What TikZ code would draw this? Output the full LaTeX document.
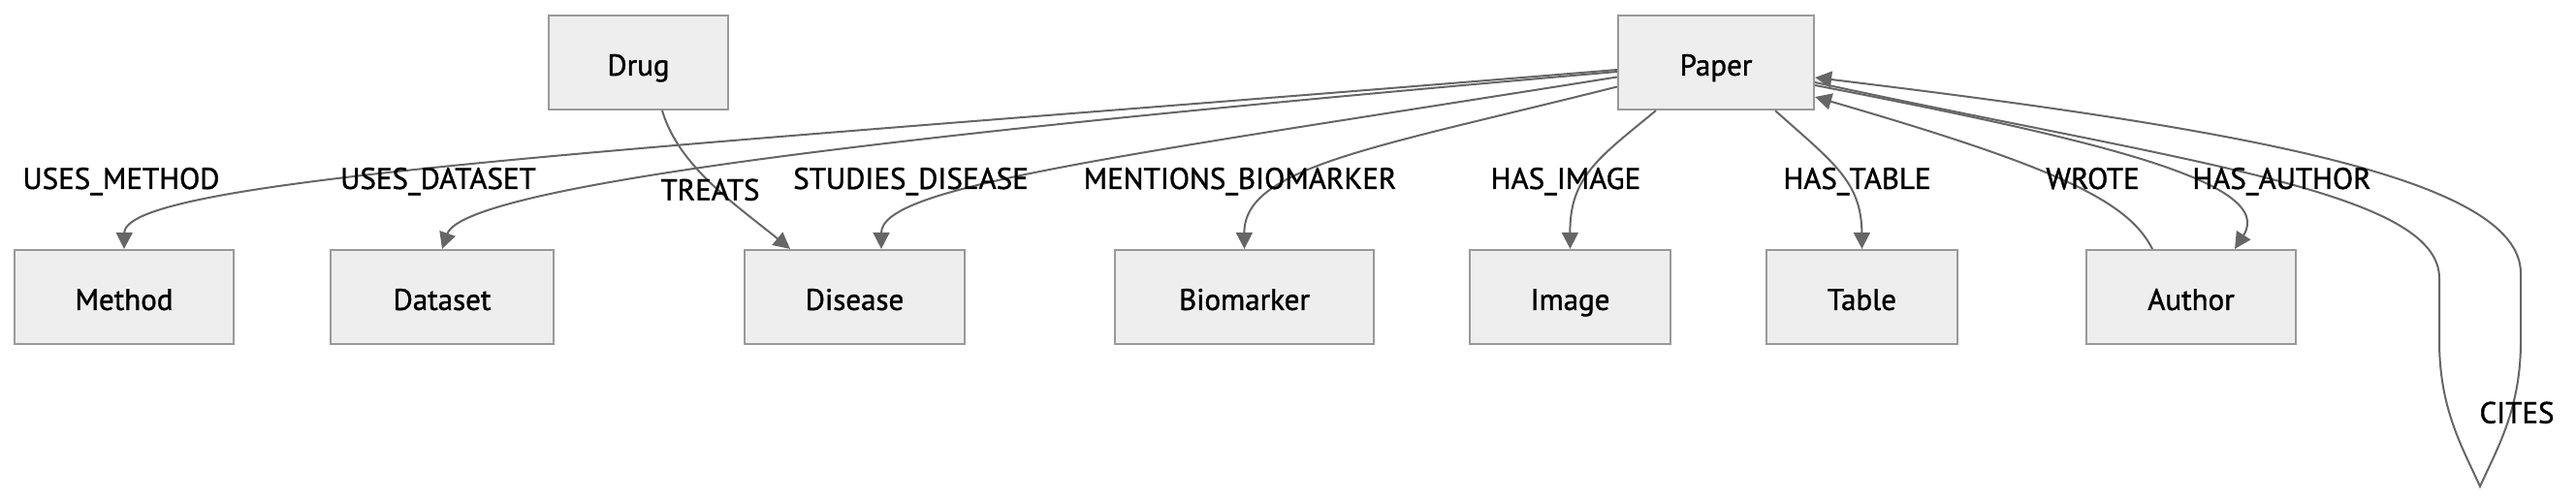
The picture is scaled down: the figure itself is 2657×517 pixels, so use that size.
\documentclass[tikz,border=0pt]{standalone}
\usepackage{fontspec}
\setmainfont{PT Sans}[FakeBold=1.2]
\usetikzlibrary{arrows.meta}
\definecolor{nodefill}{HTML}{EEEEEE}
\definecolor{nodeline}{HTML}{999999}
\definecolor{edgeline}{HTML}{666666}
\begin{document}
\begin{tikzpicture}[x=0.5pt,y=-0.5pt,
  entity/.style={draw=nodeline, fill=nodefill, line width=1.1pt, minimum height=48.5pt,
    inner sep=0pt, text height=13.4pt, text depth=0pt, font=\fontsize{15.5}{18}\selectfont},
  rel/.style={draw=edgeline, line width=1pt, -{Triangle[length=8.5pt,width=8.5pt]}},
  lbl/.style={font=\fontsize{15.5}{18}\selectfont, inner sep=0pt, anchor=base, text=black}]
\useasboundingbox (0,0) rectangle (2657,517);
% nodes
\node[entity, minimum width=92.5pt]  (drug)      at (658.5,64.5) {Drug};
\node[entity, minimum width=101pt]   (paper)     at (1770,64.5)  {Paper};
\node[entity, minimum width=113pt]   (method)    at (128,306.5)    {Method};
\node[entity, minimum width=115pt]   (dataset)   at (456,306.5)    {Dataset};
\node[entity, minimum width=113.5pt] (disease)   at (881.5,306.5)  {Disease};
\node[entity, minimum width=133.5pt] (biomarker) at (1283.5,306.5) {Biomarker};
\node[entity, minimum width=103.5pt] (image)     at (1619.5,306.5) {Image};
\node[entity, minimum width=98.5pt]  (table)     at (1920.5,306.5) {Table};
\node[entity, minimum width=108pt]   (author)    at (2260,306.5)   {Author};
\coordinate (citesbottom) at (2558,502);
% edges
\draw[rel] ([yshift=-3.75pt]paper.west) .. controls (700,152) and (129,182) .. (method.north);
\draw[rel] ([yshift=-4.75pt]paper.west) .. controls (1000,132) and (480,188) .. (dataset.north);
\draw[rel] ([yshift=-7.5pt]paper.west) .. controls (1150,162) and (909,192) .. ([xshift=13.75pt]disease.north);
\draw[rel] ([yshift=-12.5pt]paper.west) .. controls (1420,152) and (1283,172) .. (biomarker.north);
\draw[rel] ([xshift=12.25pt]drug.south) .. controls (700,172) and (760,212) .. ([xshift=-33.25pt]disease.north);
\draw[rel] ([xshift=-31pt]paper.south) .. controls (1650,162) and (1619,182) .. (image.north);
\draw[rel] ([xshift=30.5pt]paper.south) .. controls (1890,167) and (1920,187) .. (table.north);
\draw[rel] ([xshift=-20pt]author.north) .. controls (2195,207) and (2120,172) .. ([yshift=-17.75pt]paper.east);
\draw[rel] ([yshift=-11.75pt]paper.east) .. controls (2150,142) and (2350,187) .. ([xshift=22.5pt]author.north);
\draw[rel] ([yshift=-10.25pt]paper.east) .. controls (2250,167) and (2516,197) .. (2516,287)
  -- (2516,352) .. controls (2516,422) and (2540,462) .. (citesbottom)
  .. controls (2576,462) and (2600,422) .. (2600,352) -- (2600,282)
  .. controls (2600,182) and (2300,132) .. ([yshift=-7.75pt]paper.east);
% labels
\node[lbl] (lmethod)    at (125,195)    {USES\_METHOD};
\node[lbl] (ldataset)   at (452,195)    {USES\_DATASET};
\node[lbl] (ltreats)    at (732.5,206.7) {TREATS};
\node[lbl] (ldisease)   at (939.5,195)  {STUDIES\_DISEASE};
\node[lbl] (lbiomarker) at (1279,195)   {MENTIONS\_BIOMARKER};
\node[lbl] (limage)     at (1615,195)   {HAS\_IMAGE};
\node[lbl] (ltable)     at (1915.5,195) {HAS\_TABLE};
\node[lbl] (lwrote)     at (2158.5,195) {WROTE};
\node[lbl] (lauthor)    at (2353.5,195) {HAS\_AUTHOR};
\node[lbl] (lcites)     at (2596,436.7) {CITES};
\end{tikzpicture}
\end{document}
